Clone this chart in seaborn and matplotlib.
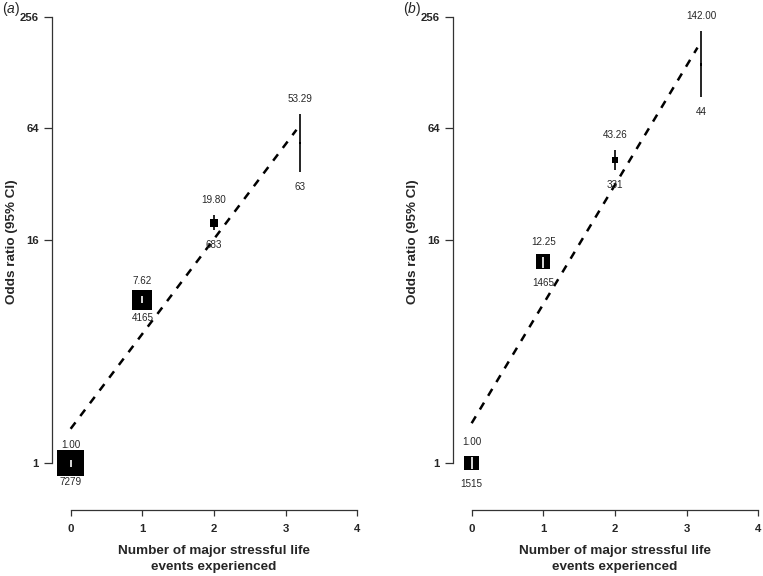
import numpy as np
import pandas as pd
import matplotlib
matplotlib.use("Agg")
import matplotlib.pyplot as plt
import seaborn as sns

# ---------------- data ----------------
events = [0, 1, 2, 3.2]
x_ticks = [0, 1, 2, 3, 4]
y_ticks = [1, 16, 64, 256]

or_a = [1.00, 7.62, 19.80, 53.29]
lo_a = [0.95, 7.31, 18.1, 37.4]
hi_a = [1.04, 7.98, 21.8, 76.4]
n_a = [7279, 4165, 683, 63]
trend_x_a = [0, 3.15]
trend_or_a = [1.53, 63.0]

or_b = [1.00, 12.25, 43.26, 142.00]
lo_b = [0.93, 11.34, 38.2, 95.1]
hi_b = [1.08, 13.0, 49.0, 215.0]
n_b = [1515, 1465, 331, 44]
trend_x_b = [0, 3.15]
trend_or_b = [1.64, 175.0]

panel_labels = ["a", "b"]
xlabel = "Number of major stressful life\nevents experienced"
ylabel = "Odds ratio (95% CI)"

# ---------------- style ----------------
sns.set_theme(style="ticks")
plt.rcParams["font.family"] = ["Liberation Sans", "DejaVu Sans"]
plt.rcParams["mathtext.fontset"] = "custom"
plt.rcParams["mathtext.it"] = "Liberation Sans:italic"
plt.rcParams["mathtext.rm"] = "Liberation Sans"

W, H = 763, 576
fig = plt.figure(figsize=(W / 100, H / 100), dpi=100)

XLIM = (-0.26, 4.1)
px_per_x = 71.7
px_per_log2 = 55.75
top_px, bot_px = 10, 510
y1_px = 463  # pixel row of OR = 1
ylim = (2 ** ((y1_px - bot_px) / px_per_log2), 2 ** ((y1_px - top_px) / px_per_log2))

panels = [
    dict(left=52, events=events, orv=or_a, lo=lo_a, hi=hi_a, n=n_a,
         tx=trend_x_a, tor=trend_or_a, side_max=26.5, label=panel_labels[0],
         letter_x=2, ylab_x=18.5),
    dict(left=453, events=events, orv=or_b, lo=lo_b, hi=hi_b, n=n_b,
         tx=trend_x_b, tor=trend_or_b, side_max=14.5, label=panel_labels[1],
         letter_x=403, ylab_x=419),
]

ann_color = "#262626"

for p in panels:
    width_px = (XLIM[1] - XLIM[0]) * px_per_x
    ax = fig.add_axes([p["left"] / W, (H - bot_px) / H, width_px / W, (bot_px - top_px) / H])
    ax.set_yscale("log", base=2)
    ax.set_xlim(*XLIM)
    ax.set_ylim(*ylim)

    df = pd.DataFrame({"events": p["events"], "OR": p["orv"], "lo": p["lo"],
                       "hi": p["hi"], "n": p["n"]})

    # CI lines (black, under the boxes)
    ax.vlines(df["events"], df["lo"], df["hi"], color="black", lw=1.2, zorder=2)

    # trend line
    tdf = pd.DataFrame({"x": p["tx"], "y": p["tor"]})
    sns.lineplot(data=tdf, x="x", y="y", ax=ax, color="black", lw=1.8,
                 linestyle=(0, (3.2, 3.2)), zorder=3)

    # boxes, area proportional to n
    side_pt = p["side_max"] * 0.72
    nmax = max(p["n"])
    sns.scatterplot(data=df, x="events", y="OR", size="n",
                    sizes=(0, side_pt ** 2), size_norm=(0, nmax),
                    marker="s", color="black", linewidth=0, legend=False,
                    ax=ax, zorder=4)

    # white CI line where the CI lies inside the box
    for xv, o, l, h, nn in zip(df["events"], df["OR"], df["lo"], df["hi"], df["n"]):
        half_px = p["side_max"] * np.sqrt(nn / nmax) / 2
        ci_up_px = np.log2(h / o) * px_per_log2
        ci_dn_px = np.log2(o / l) * px_per_log2
        if ci_up_px < half_px and ci_dn_px < half_px:
            ax.vlines([xv], [l], [h], color="white", lw=1.2, zorder=5)
        # labels
        ax.annotate(f"{o:.2f}", (xv, h), xytext=(0, 10.8), textcoords="offset points",
                    ha="center", va="center", fontsize=7.1, color=ann_color, zorder=6)
        ax.annotate(f"{nn}", (xv, l), xytext=(0, -10.8), textcoords="offset points",
                    ha="center", va="center", fontsize=7.1, color=ann_color, zorder=6)

    # axes styling
    sns.despine(ax=ax)
    ax.spines["left"].set_bounds(y_ticks[0], y_ticks[-1])
    ax.spines["bottom"].set_bounds(x_ticks[0], x_ticks[-1])
    for s in ("left", "bottom"):
        ax.spines[s].set_color("#333333")
        ax.spines[s].set_linewidth(0.9)
    ax.set_yticks(y_ticks)
    ax.set_yticklabels([str(v) for v in y_ticks])
    ax.yaxis.set_minor_locator(matplotlib.ticker.NullLocator())
    ax.set_xticks(x_ticks)
    ax.set_xticklabels([str(v) for v in x_ticks])
    ax.tick_params(axis="y", length=5.5, width=0.9, pad=4, labelsize=8.2, color="#333333")
    ax.tick_params(axis="x", length=4, width=0.9, pad=6, labelsize=8.2, color="#333333")
    for t in ax.get_xticklabels() + ax.get_yticklabels():
        t.set_fontweight("bold")

    ax.set_xlabel(xlabel, fontsize=9.7, fontweight="bold", linespacing=1.4, va="top")
    xl_frac = (2 - XLIM[0]) / (XLIM[1] - XLIM[0])
    ax.xaxis.set_label_coords(xl_frac, -(545 - bot_px) / (bot_px - top_px))
    ax.set_ylabel(ylabel, fontsize=9.7, fontweight="bold")
    ax.yaxis.set_label_coords(-(p["left"] - p["ylab_x"]) / width_px,
                              (bot_px - 242) / (bot_px - top_px))
    ax.grid(False)

    fig.text(p["letter_x"] / W, 1 - 9 / H, "($\\it{" + p["label"] + "}$)",
             fontsize=10, ha="left", va="center")

fig.savefig("out.png", dpi=100)
